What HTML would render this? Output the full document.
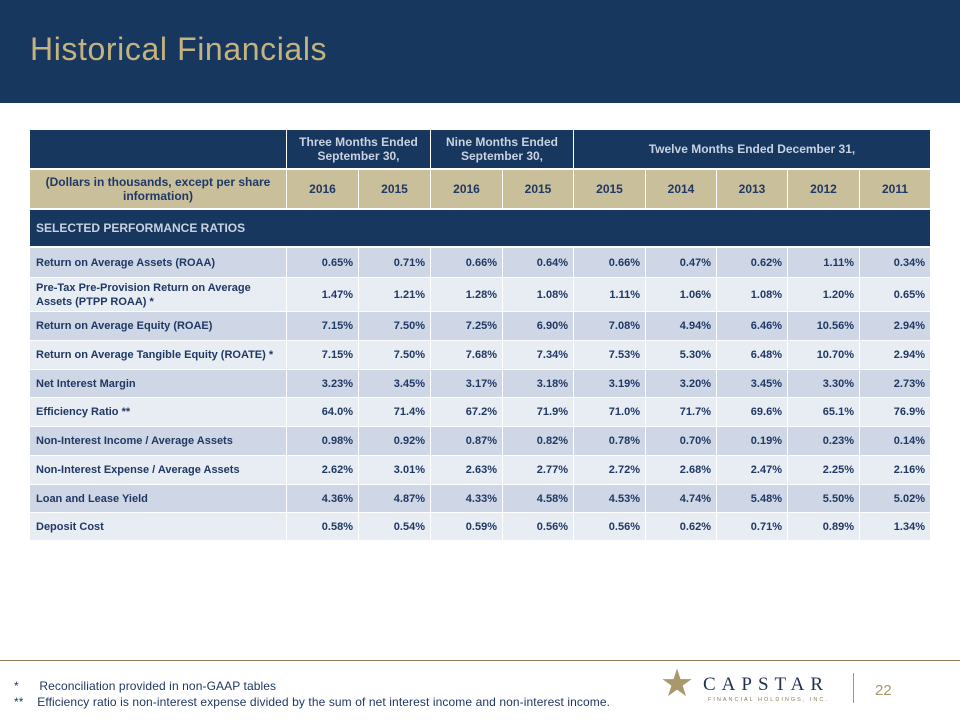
<!DOCTYPE html>
<html><head><meta charset="utf-8">
<style>
body{margin:0;width:960px;height:720px;position:relative;background:#fff;font-family:"Liberation Sans",sans-serif;overflow:hidden}
.c{position:absolute;box-sizing:border-box;display:flex;align-items:center;font-weight:bold;font-size:11px;color:#1f3864;line-height:14px}
.r{justify-content:flex-end;padding-right:5px}
.m{justify-content:center;text-align:center;font-size:12px}
.l{padding-left:6px}
</style></head><body>
<div style="position:absolute;left:0;top:0;width:960px;height:103px;background:#17375e"></div>
<div style="position:absolute;left:30px;top:31px;font-size:32px;color:#c4b27f;letter-spacing:0.6px">Historical Financials</div>
<div id="tbl"></div>
<div style="position:absolute;left:0;top:660px;width:960px;height:1px;background:#8a7f55"></div>
<div style="position:absolute;left:14px;top:679px;font-size:12px;letter-spacing:0.1px;color:#1f3864">*&nbsp;&nbsp;&nbsp;&nbsp;&nbsp;&nbsp;Reconciliation provided in non-GAAP tables</div>
<div style="position:absolute;left:14px;top:695px;font-size:12px;letter-spacing:0.1px;color:#1f3864">**&nbsp;&nbsp;&nbsp;&nbsp;Efficiency ratio is non-interest expense divided by the sum of net interest income and non-interest income.</div>
<div style="position:absolute;left:660px;top:664px;font-size:38px;color:#a8986a;line-height:40px">★</div>
<div style="position:absolute;left:703px;top:674px;font-family:'Liberation Serif',serif;font-size:19px;letter-spacing:6px;color:#1f3050">CAPSTAR</div>
<div style="position:absolute;left:708px;top:697px;font-size:5.5px;letter-spacing:2px;color:#8a7f55">FINANCIAL HOLDINGS, INC.</div>
<div style="position:absolute;left:853px;top:673px;width:1px;height:30px;background:#a8986a"></div>
<div style="position:absolute;left:875px;top:682px;font-size:15px;color:#a8986a">22</div>
<script>
const labels=["Return on Average Assets (ROAA)","Pre-Tax Pre-Provision Return on Average Assets  (PTPP ROAA) *","Return on Average Equity (ROAE)","Return on Average Tangible Equity (ROATE) *","Net Interest Margin","Efficiency Ratio **","Non-Interest Income / Average Assets","Non-Interest Expense / Average Assets","Loan and Lease Yield","Deposit Cost"];
const years=["2016","2015","2016","2015","2015","2014","2013","2012","2011"];
const values=[
["0.65%","0.71%","0.66%","0.64%","0.66%","0.47%","0.62%","1.11%","0.34%"],
["1.47%","1.21%","1.28%","1.08%","1.11%","1.06%","1.08%","1.20%","0.65%"],
["7.15%","7.50%","7.25%","6.90%","7.08%","4.94%","6.46%","10.56%","2.94%"],
["7.15%","7.50%","7.68%","7.34%","7.53%","5.30%","6.48%","10.70%","2.94%"],
["3.23%","3.45%","3.17%","3.18%","3.19%","3.20%","3.45%","3.30%","2.73%"],
["64.0%","71.4%","67.2%","71.9%","71.0%","71.7%","69.6%","65.1%","76.9%"],
["0.98%","0.92%","0.87%","0.82%","0.78%","0.70%","0.19%","0.23%","0.14%"],
["2.62%","3.01%","2.63%","2.77%","2.72%","2.68%","2.47%","2.25%","2.16%"],
["4.36%","4.87%","4.33%","4.58%","4.53%","4.74%","5.48%","5.50%","5.02%"],
["0.58%","0.54%","0.59%","0.56%","0.56%","0.62%","0.71%","0.89%","1.34%"]];
const colX=[30,287,359,431,503,574,646,717,788,860,931];
const rowY=[248,278,312,341,370,398,427,456,485,513,541];
const t=document.getElementById('tbl');
function cell(x,y,w,h,bg,cls,txt,color,name){
 const d=document.createElement('div');
 d.className='c '+cls;
 d.style.cssText=`left:${x}px;top:${y}px;width:${w}px;height:${h}px;background:${bg};`+(color?`color:${color};`:'');
 d.innerHTML=txt;
 
 
 t.appendChild(d);
}
const navy='#17375e',tan='#c9bf9b',hc='#c8d2e2';
cell(30,130,256,38,navy,'m','','', 'header-blank');
cell(287,130,143,38,navy,'m','Three Months Ended<br>September 30,',hc,'header-three-months');
cell(431,130,142,38,navy,'m','Nine Months Ended<br>September 30,',hc,'header-nine-months');
cell(574,130,356,38,navy,'m','Twelve Months Ended December 31,',hc,'header-twelve-months');
cell(30,170,256,38,tan,'m','(Dollars in thousands, except per share<br>information)','','header-units');
years.forEach((y,i)=>cell(colX[i+1],170,colX[i+2]-colX[i+1]-1,38,tan,'m',y,'','header-year'));
cell(30,210,900,36,navy,'l','SELECTED PERFORMANCE RATIOS',hc,'section-header');
t.lastChild.style.fontSize='12px';
labels.forEach((lab,r)=>{
 const bg=r%2==0?'#cfd7e6':'#e8ecf3';
 const y=rowY[r],h=rowY[r+1]-y-1;
 cell(30,y,256,h,bg,'l',lab,'','row-label');
 values[r].forEach((v,i)=>cell(colX[i+1],y,colX[i+2]-colX[i+1]-1,h,bg,'r',v,'','value-cell'));
});
</script>
</body></html>
